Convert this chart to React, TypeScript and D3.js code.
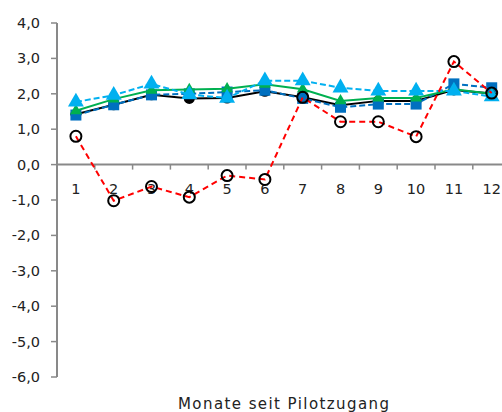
import React, { useEffect, useRef } from "react";
import * as d3 from "d3";

const months = ["1", "2", "3", "4", "5", "6", "7", "8", "9", "10", "11", "12"];
const yTicks = [4, 3, 2, 1, 0, -1, -2, -3, -4, -5, -6];

const seriesBlack = [1.42, 1.69, 1.97, 1.87, 1.88, 2.07, 1.9, 1.68, 1.8, 1.8, 2.11, 2.01];
const seriesBlue = [1.4, 1.69, 1.97, 2.0, 2.05, 2.1, 1.87, 1.62, 1.71, 1.71, 2.28, 2.17];
const seriesGreen = [1.52, 1.85, 2.1, 2.12, 2.14, 2.27, 2.13, 1.8, 1.88, 1.88, 2.13, 2.0];
const seriesLightBlue = [1.77, 1.96, 2.28, 1.98, 1.88, 2.37, 2.37, 2.17, 2.08, 2.08, 2.08, 1.92];
const seriesRed = [0.8, -1.02, -0.62, -0.92, -0.31, -0.42, 1.9, 1.21, 1.21, 0.79, 2.91, 2.02];

const W = 502;
const H = 412;
const axisX = 57;
const bandW = 37.8;

export default function App() {
  const ref = useRef<SVGSVGElement | null>(null);

  useEffect(() => {
    const svg = d3.select(ref.current);
    svg.selectAll("*").remove();
    const font = "'DejaVu Sans', sans-serif";

    const x = d3.scaleBand<string>().domain(months).range([axisX, axisX + bandW * months.length]);
    const y = d3.scaleLinear().domain([-6, 4]).range([377, 23]);
    const cx = (i: number) => (x(months[i]) as number) + x.bandwidth() / 2;

    const axisColor = "#898989";

    // y axis
    svg.append("line").attr("x1", axisX).attr("x2", axisX).attr("y1", y(4)).attr("y2", y(-6))
      .attr("stroke", axisColor).attr("stroke-width", 2);
    yTicks.forEach((t) => {
      svg.append("line").attr("x1", axisX - 6).attr("x2", axisX).attr("y1", y(t)).attr("y2", y(t))
        .attr("stroke", axisColor).attr("stroke-width", 1.5);
      svg.append("text").attr("x", 40).attr("y", y(t)).attr("dy", "0.35em")
        .attr("text-anchor", "end").attr("font-family", font).attr("font-size", 14.5)
        .attr("fill", "#222").text(d3.format(".1f")(t).replace(".", ",").replace("−", "-"));
    });

    // x axis at 0
    svg.append("line").attr("x1", axisX).attr("x2", W).attr("y1", y(0)).attr("y2", y(0))
      .attr("stroke", axisColor).attr("stroke-width", 2);
    months.forEach((m, i) => {
      const bx = (x(m) as number) + bandW;
      svg.append("line").attr("x1", bx).attr("x2", bx).attr("y1", y(0)).attr("y2", y(0) + 5)
        .attr("stroke", axisColor).attr("stroke-width", 1.5);
      svg.append("text").attr("x", cx(i)).attr("y", y(0) + 29)
        .attr("text-anchor", "middle").attr("font-family", font).attr("font-size", 14.5)
        .attr("fill", "#222").text(m);
    });

    svg.append("text").attr("x", 178).attr("y", 409).attr("text-anchor", "start")
      .attr("font-family", font).attr("font-size", 15).attr("fill", "#222")
      .attr("textLength", 211).attr("lengthAdjust", "spacing")
      .text("Monate seit Pilotzugang");

    const line = d3.line<number>().x((_, i) => cx(i)).y((d) => y(d));

    // black series
    svg.append("path").attr("d", line(seriesBlack)).attr("fill", "none")
      .attr("stroke", "#000").attr("stroke-width", 2);
    seriesBlack.forEach((v, i) => {
      svg.append("circle").attr("cx", cx(i)).attr("cy", y(v)).attr("r", 5.5).attr("fill", "#000");
    });

    // blue squares dashed
    svg.append("path").attr("d", line(seriesBlue)).attr("fill", "none")
      .attr("stroke", "#0070C0").attr("stroke-width", 2).attr("stroke-dasharray", "6,3");
    seriesBlue.forEach((v, i) => {
      svg.append("rect").attr("x", cx(i) - 5.5).attr("y", y(v) - 5.5).attr("width", 11).attr("height", 11)
        .attr("fill", "#0070C0");
    });

    // green
    const tri = d3.symbol().type(d3.symbolTriangle).size(60);
    svg.append("path").attr("d", line(seriesGreen)).attr("fill", "none")
      .attr("stroke", "#00B050").attr("stroke-width", 2);
    seriesGreen.forEach((v, i) => {
      svg.append("path").attr("d", tri()).attr("transform", `translate(${cx(i)},${y(v)})`)
        .attr("fill", "#00B050");
    });

    // light blue triangles dashed
    const tri2 = d3.symbol().type(d3.symbolTriangle).size(110);
    svg.append("path").attr("d", line(seriesLightBlue)).attr("fill", "none")
      .attr("stroke", "#00B0F0").attr("stroke-width", 2).attr("stroke-dasharray", "6,3");
    seriesLightBlue.forEach((v, i) => {
      svg.append("path").attr("d", tri2()).attr("transform", `translate(${cx(i)},${y(v)})`)
        .attr("fill", "#00B0F0");
    });

    // red dashed with open circles
    svg.append("path").attr("d", line(seriesRed)).attr("fill", "none")
      .attr("stroke", "#FF0000").attr("stroke-width", 2).attr("stroke-dasharray", "6,4");
    seriesRed.forEach((v, i) => {
      svg.append("circle").attr("cx", cx(i)).attr("cy", y(v)).attr("r", 5.5)
        .attr("fill", "none").attr("stroke", "#000").attr("stroke-width", 2);
    });
  }, []);

  return (
    <svg ref={ref} width={W} height={H}
      style={{ position: "absolute", left: 0, top: 0, background: "#fff" }} />
  );
}
